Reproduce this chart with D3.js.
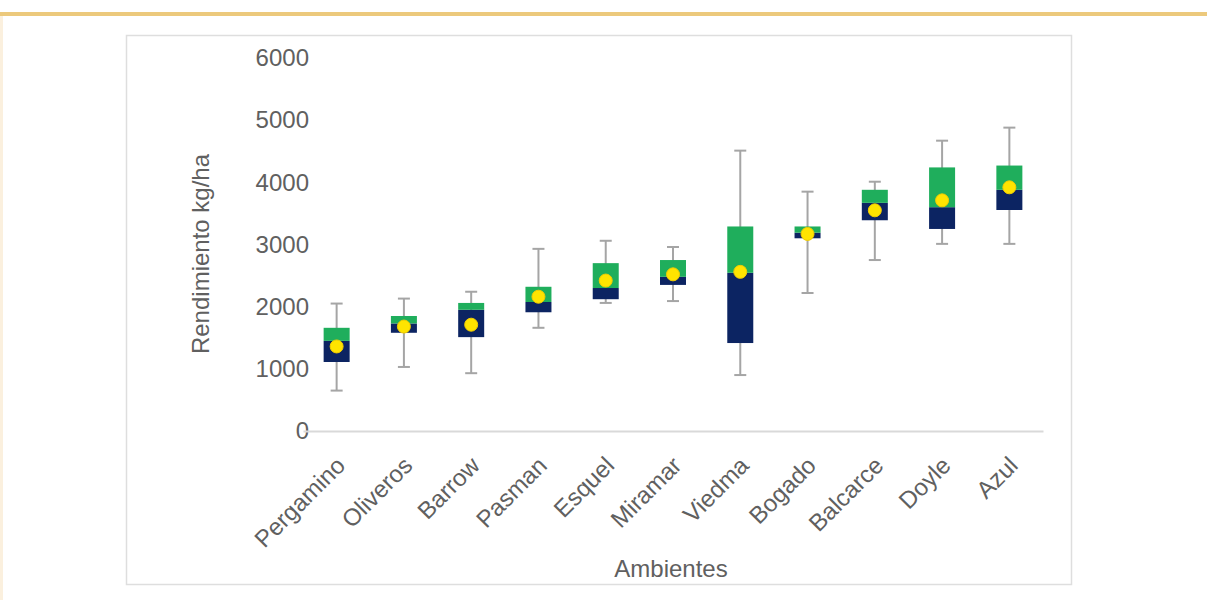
<!DOCTYPE html>
<html>
<head>
<meta charset="utf-8">
<script src="https://cdn.jsdelivr.net/npm/d3@7"></script>
<style>
  html, body { margin: 0; padding: 0; background: #ffffff; }
  svg { display: block; font-family: "Liberation Sans", Arial, sans-serif; }
</style>
</head>
<body>
<svg id="chart" width="1207" height="600"></svg>
<script>
// Rendimiento por ambiente (kg/ha)
const ambientes = ["Pergamino", "Oliveros", "Barrow", "Pasman", "Esquel", "Miramar",
                   "Viedma", "Bogado", "Balcarce", "Doyle", "Azul"];
const minimo  = [ 650, 1030,  930, 1660, 2060, 2090,  900, 2220, 2750, 3010, 3010];
const q1      = [1110, 1580, 1510, 1910, 2120, 2350, 1415, 3100, 3390, 3250, 3555];
const mediana = [1450, 1730, 1950, 2075, 2300, 2480, 2545, 3190, 3670, 3600, 3880];
const q3      = [1660, 1850, 2060, 2320, 2700, 2750, 3290, 3290, 3880, 4240, 4270];
const maximo  = [2050, 2130, 2240, 2930, 3060, 2960, 4510, 3850, 4010, 4670, 4880];
const media   = [1360, 1680, 1710, 2160, 2420, 2520, 2560, 3170, 3550, 3710, 3920];
const yTicks  = [0, 1000, 2000, 3000, 4000, 5000, 6000];

const rows = ambientes.map((a, i) => ({
  a, min: minimo[i], q1: q1[i], med: mediana[i], q3: q3[i], max: maximo[i], mean: media[i]
}));

const svg = d3.select("#chart");
const textColor = "#606060";
const font = "'Liberation Sans', Arial, sans-serif";

// Banda superior y marco
svg.append("rect").attr("x", 0).attr("y", 12).attr("width", 1207).attr("height", 4)
  .attr("fill", "#ecc97c");
svg.append("rect").attr("x", 0).attr("y", 16).attr("width", 3).attr("height", 584)
  .attr("fill", "#fbf0de");
svg.append("rect").attr("x", 126.5).attr("y", 35.5).attr("width", 945).attr("height", 549)
  .attr("fill", "#ffffff").attr("stroke", "#dedede").attr("stroke-width", 1.5);

const x = d3.scaleBand().domain(ambientes).range([303, 1043]);
const y = d3.scaleLinear().domain([0, 6000]).range([431, 58]);

// Eje Y (solo etiquetas)
const yAxis = svg.append("g").attr("transform", "translate(309,0)")
  .call(d3.axisLeft(y).tickValues(yTicks).tickFormat(d3.format("d")).tickSize(0).tickPadding(0));
yAxis.select(".domain").remove();
yAxis.selectAll("text").attr("fill", textColor).attr("font-size", 24)
  .attr("font-family", font);

// Eje X
const xAxis = svg.append("g").attr("transform", `translate(0,${y(0)})`)
  .call(d3.axisBottom(x).tickSize(0).tickPadding(0));
xAxis.select(".domain").attr("stroke", "#d9d9d9").attr("stroke-width", 2);
xAxis.selectAll(".tick text")
  .attr("fill", textColor).attr("font-size", 24)
  .attr("font-family", font)
  .attr("text-anchor", "end").attr("dy", 0).attr("y", 0)
  .attr("transform", "translate(10,36) rotate(-45)");

// Títulos de ejes
svg.append("text").attr("transform", "translate(209,254) rotate(-90)")
  .attr("text-anchor", "middle").attr("fill", textColor).attr("font-size", 24)
  .attr("font-family", font)
  .text("Rendimiento kg/ha");
svg.append("text").attr("x", 671).attr("y", 577)
  .attr("text-anchor", "middle").attr("fill", textColor).attr("font-size", 24)
  .attr("font-family", font)
  .text("Ambientes");

// Cajas
const boxW = 26, capW = 12;
const g = svg.append("g");
const item = g.selectAll("g.box").data(rows).join("g").attr("class", "box")
  .attr("transform", d => `translate(${x(d.a) + x.bandwidth() / 2},0)`);

item.append("line").attr("x1", 0).attr("x2", 0)
  .attr("y1", d => y(d.max)).attr("y2", d => y(d.min))
  .attr("stroke", "#a5a5a5").attr("stroke-width", 2);
item.append("line").attr("x1", -capW / 2).attr("x2", capW / 2)
  .attr("y1", d => y(d.max)).attr("y2", d => y(d.max))
  .attr("stroke", "#a5a5a5").attr("stroke-width", 2);
item.append("line").attr("x1", -capW / 2).attr("x2", capW / 2)
  .attr("y1", d => y(d.min)).attr("y2", d => y(d.min))
  .attr("stroke", "#a5a5a5").attr("stroke-width", 2);

item.append("rect").attr("x", -boxW / 2).attr("width", boxW)
  .attr("y", d => y(d.med)).attr("height", d => y(d.q1) - y(d.med))
  .attr("fill", "#0c2462");
item.append("rect").attr("x", -boxW / 2).attr("width", boxW)
  .attr("y", d => y(d.q3)).attr("height", d => y(d.med) - y(d.q3))
  .attr("fill", "#1fae5c");

item.append("circle").attr("cx", 0).attr("cy", d => y(d.mean)).attr("r", 6.5)
  .attr("fill", "#ffe400").attr("stroke", "#f2cc00").attr("stroke-width", 1);
</script>
</body>
</html>
